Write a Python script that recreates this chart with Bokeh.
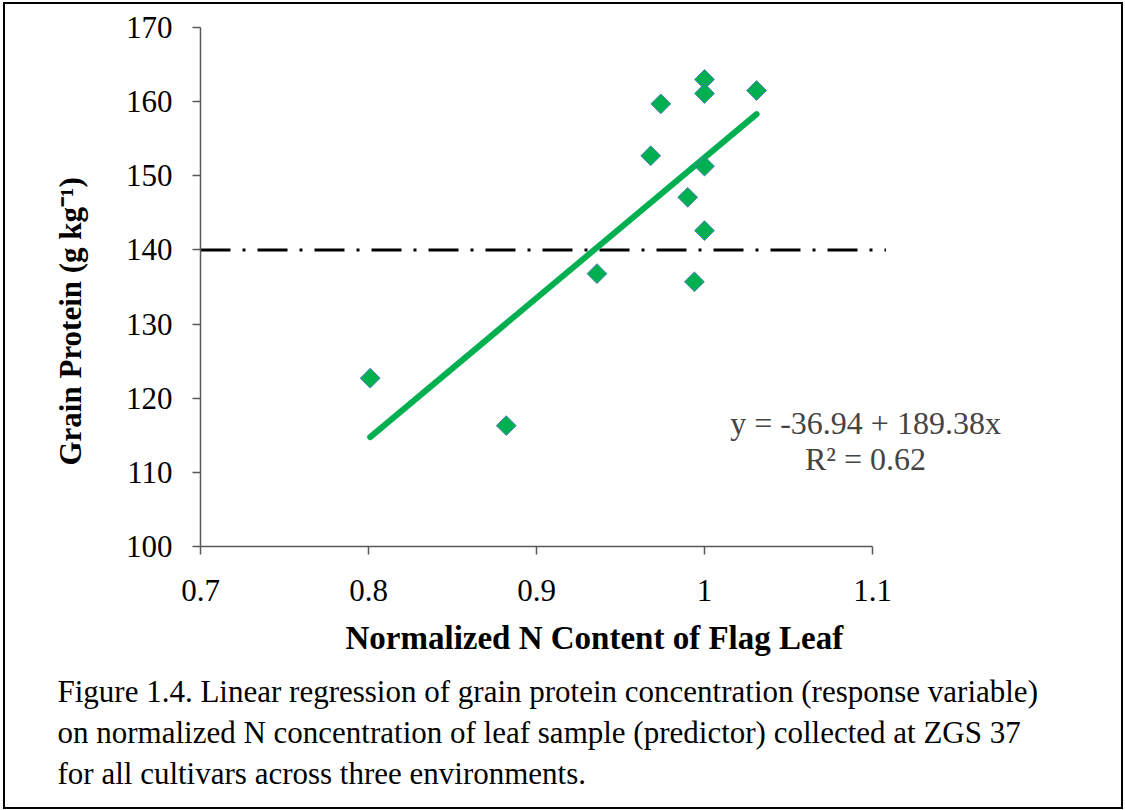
from bokeh.plotting import figure
from bokeh.models import Label, Range1d, FixedTicker, Title
from bokeh.embed import file_html
from bokeh.resources import INLINE

# ---- data ----
n_content = [0.801, 0.882, 0.936, 0.968, 0.974, 0.990, 0.994, 1.000, 1.000, 1.000, 1.000, 1.031]
grain_protein = [122.7, 116.3, 136.8, 152.7, 159.7, 147.1, 135.7, 163.0, 161.1, 151.3, 142.6, 161.5]
intercept = -36.94
slope = 189.38
r_squared = 0.62
threshold = 140
threshold_x = [0.7, 1.108]
x_ticks = [0.7, 0.8, 0.9, 1.0, 1.1]
x_tick_labels = {0.7: "0.7", 0.8: "0.8", 0.9: "0.9", 1.0: "1", 1.1: "1.1"}
y_ticks = [100, 110, 120, 130, 140, 150, 160, 170]
x_title = "Normalized N Content of Flag Leaf"
y_title = "Grain Protein (g kg\u207b\u00b9)"
caption_lines = [
    "Figure 1.4. Linear regression of grain protein concentration (response variable)",
    "on normalized N concentration of leaf sample (predictor) collected at ZGS 37",
    "for all cultivars across three environments.",
]

FONT = "Liberation Serif"
GREEN = "#00B050"

p = figure(frame_width=840, frame_height=519, output_backend="svg", toolbar_location=None,
           x_range=Range1d(0.7, 1.2), y_range=Range1d(100, 170),
           min_border_left=195, min_border_right=81,
           min_border_top=23, min_border_bottom=261)
p.styles = {"border": "2px solid black", "margin-left": "3px", "margin-top": "2px"}
p.outline_line_color = None
p.xgrid.grid_line_color = None
p.ygrid.grid_line_color = None
p.background_fill_color = "white"
p.border_fill_color = "white"

for ax in (p.xaxis[0], p.yaxis[0]):
    ax.axis_line_color = "#595959"
    ax.axis_line_width = 1.5
    ax.major_tick_line_color = "#595959"
    ax.major_tick_line_width = 1.5
    ax.major_tick_in = 0
    ax.major_tick_out = 8
    ax.minor_tick_line_color = None
    ax.major_label_text_font = FONT
    ax.major_label_text_font_size = "31px"
    ax.major_label_text_color = "black"

p.xaxis.ticker = FixedTicker(ticks=x_ticks)
p.xaxis.major_label_overrides = x_tick_labels
p.xaxis.bounds = (0.7, 1.1)
p.xaxis.major_label_standoff = 25
p.yaxis.ticker = FixedTicker(ticks=y_ticks)
p.yaxis.major_label_standoff = 20

# threshold line
p.line(threshold_x, [threshold, threshold], line_color="black", line_width=3,
       line_dash="30 12 3 12")

# regression line
xr = [min(n_content), max(n_content)]
yr = [intercept + slope * v for v in xr]
p.line(xr, yr, line_color=GREEN, line_width=6, line_cap="round")

# points
p.scatter(n_content, grain_protein, marker="square", angle=0.785398, size=14,
          fill_color=GREEN, line_color="#4F81BD", line_width=1)

def dx(px):
    return 0.7 + (px - 200) / 1680.0

def dy(py):
    return 100 + (546 - py) / 7.414

p.add_layout(Label(x=dx(865), y=dy(423), text="y = -36.94 + 189.38x",
                   text_font=FONT, text_font_size="32px", text_align="center",
                   text_baseline="alphabetic"))
p.add_layout(Label(x=dx(865), y=dy(459), text="R\u00b2 = %.2f" % r_squared,
                   text_font=FONT, text_font_size="32px", text_align="center",
                   text_baseline="alphabetic"))

p.add_layout(Title(text=x_title, align="left", offset=145, text_font=FONT,
                   text_font_size="33px", text_font_style="bold", standoff=28,
                   text_color="black"), "below")
for line in caption_lines:
    p.add_layout(Title(text=line, align="left", offset=-143, text_font=FONT,
                       text_font_size="31px", text_font_style="normal", standoff=4,
                       text_color="black"), "below")

p.add_layout(Title(text=y_title, align="left", offset=81, text_font=FONT,
                   text_font_size="31px", text_font_style="bold", standoff=70,
                   text_color="black"), "left")

open("out.html", "w").write(file_html(p, INLINE))
